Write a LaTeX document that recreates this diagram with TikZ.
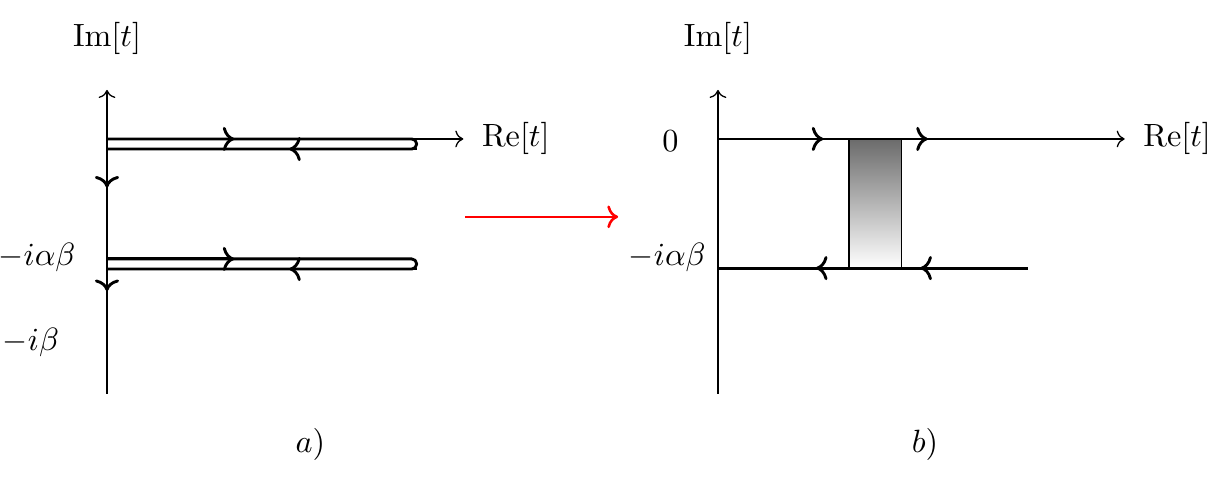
\documentclass[tikz,border=0pt]{standalone}
\usetikzlibrary{positioning, arrows.meta}

\begin{document}
\begin{tikzpicture}[
    >={To},
    axis/.style    ={->, line width=0.4pt},
    contour/.style ={line width=0.9pt, line join=round},
    cut/.style     ={contour, rounded corners=1.5pt},
    strip/.style   ={line width=0.4pt, top color=black!58, bottom color=white},
    morph/.style   ={->, red, line width=0.8pt},
]
\useasboundingbox (-1.168,1.517) rectangle (12.129,-3.701);

% =============== Panel a): contour with two hairpins ===============
\coordinate (oA)   at (0,0);
\coordinate (botA) at (0,-2.78);
\coordinate (topA) at (0,0.535);
\coordinate (xA)   at (3.89,0);
\draw[axis] (botA) -- (topA);
\draw[axis] (oA) -- (xA);
\node[right=0.8mm of xA] (reA) {Re$[t]$};
\node[above=2.6mm of topA] (imA) {Im$[t]$};

\foreach \y in {0, -1.31}{%
  \draw[cut] (0,\y) -- (3.38,\y) -- (3.38,\y-0.11) -- (0,\y-0.11);
  \draw[contour, ->] (0,\y) -- (1.39,\y);
  \draw[contour, ->] (3.38,\y-0.11) -- (1.99,\y-0.11);
}
\draw[contour] (0,-0.11) -- (0,-2.23);
\draw[contour, ->] (0,-0.11) -- (0,-0.53);
\draw[contour, ->] (0,-1.42) -- (0,-1.66);

\node[anchor=east] (iabA) at (-0.22,-1.29) {$-i\alpha\beta$};
\node[anchor=east] (ibA)  at (-0.40,-2.22) {$-i\beta$};
\node (capA) at (2.22,-3.34) {$a)$};

% =============== Map between the panels ===============
\coordinate (mapS) at (3.91,-0.85);
\coordinate (mapE) at (5.58,-0.85);
\draw[morph] (mapS) -- (mapE);

% =============== Panel b): two lines with shaded strip ===============
\begin{scope}[xshift=6.67cm]
  \coordinate (oB)   at (0,0);
  \coordinate (botB) at (0,-2.78);
  \coordinate (topB) at (0,0.535);
  \coordinate (xB)   at (4.44,0);
  \draw[axis] (botB) -- (topB);
  \draw[axis] (oB) -- (xB);
  \node[right=0.8mm of xB] (reB) {Re$[t]$};
  \node[above=2.6mm of topB] (imB) {Im$[t]$};

  \draw[strip] (1.43,0) rectangle (2.0,-1.41);
  \draw[contour] (0,0) -- (3.38,0);
  \draw[contour] (0,-1.41) -- (3.38,-1.41);
  \draw[contour, ->] (0,0) -- (1.15,0);
  \draw[contour, ->] (2.0,0) -- (2.29,0);
  \draw[contour, ->] (3.38,-1.41) -- (2.21,-1.41);
  \draw[contour, ->] (1.43,-1.41) -- (1.07,-1.41);

  \node (zeroB) at (-0.52,-0.02) {$0$};
  \node[anchor=east] (iabB) at (-0.01,-1.29) {$-i\alpha\beta$};
  \node (capB) at (2.26,-3.34) {$b)$};
\end{scope}

\end{tikzpicture}
\end{document}
